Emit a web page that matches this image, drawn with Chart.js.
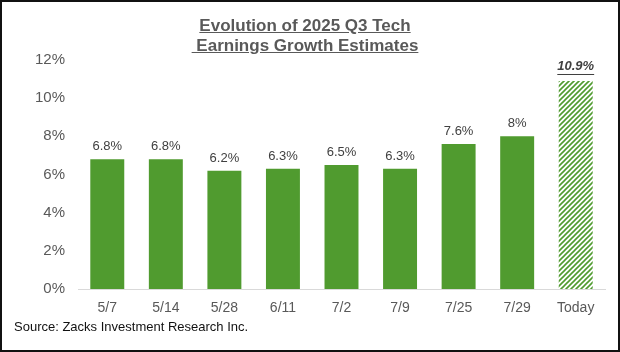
<!DOCTYPE html>
<html>
<head>
<meta charset="utf-8">
<script src="https://cdn.jsdelivr.net/npm/chart.js@4"></script>
<style>
  html, body { margin: 0; padding: 0; background: #fff; }
  #frame { position: relative; width: 616px; height: 348px; border: 2px solid #111; overflow: hidden; font-family: "Liberation Sans", Arial, sans-serif; }
  #title { position: absolute; left: 0; top: 14px; width: 606px; text-align: center; font-weight: bold; font-size: 17px; line-height: 20px; color: #595959; text-decoration: underline; white-space: pre; }
  #source { position: absolute; left: 12px; top: 317px; font-size: 13px; color: #111; }
  canvas#graph { position: absolute; left: -2px; top: -2px; }
</style>
</head>
<body>
<div id="frame">
  <canvas id="graph" width="620" height="352"></canvas>
  <div id="title">Evolution of 2025 Q3 Tech
 Earnings Growth Estimates</div>
  <div id="source">Source: Zacks Investment Research Inc.</div>
</div>
<script>
// data
var dates = ["5/7", "5/14", "5/28", "6/11", "7/2", "7/9", "7/25", "7/29", "Today"];
var growth = [6.8, 6.8, 6.2, 6.3, 6.5, 6.3, 7.6, 8.0, 10.9];
var labels = ["6.8%", "6.8%", "6.2%", "6.3%", "6.5%", "6.3%", "7.6%", "8%", "10.9%"];
var yTicks = [0, 2, 4, 6, 8, 10, 12];

const green = "#509b2f";
const tickFont = "'Liberation Sans', Arial";

function hatch() {
    var c = document.createElement("canvas");
    c.width = 5; c.height = 5;
    var g = c.getContext("2d");
    g.fillStyle = "#fff";
    g.fillRect(0, 0, 5, 5);
    g.strokeStyle = green;
    g.lineWidth = 1.6;
    g.beginPath();
    g.moveTo(-1, 6); g.lineTo(6, -1);
    g.moveTo(-1, 1); g.lineTo(1, -1);
    g.moveTo(4, 6); g.lineTo(6, 4);
    g.stroke();
    return g.createPattern(c, "repeat");
}

var barLabels = {
    id: "barLabels",
    afterDatasetsDraw(chart) {
        var ctx = chart.ctx;
        var meta = chart.getDatasetMeta(0);
        ctx.save();
        ctx.textAlign = "center";
        ctx.textBaseline = "bottom";
        meta.data.forEach((bar, i) => {
            var last = i == labels.length - 1;
            ctx.font = last ? "italic bold 13px 'Liberation Sans', Arial" : "13px 'Liberation Sans', Arial";
            ctx.fillStyle = "#404040";
            var y = bar.y - (last ? 8 : 6);
            ctx.fillText(labels[i], bar.x, y);
            if (last) {
                var w = ctx.measureText(labels[i]).width;
                ctx.fillRect(bar.x - w/2, y + 1, w, 1);
            }
        });
        ctx.restore();
    }
};

var graph = new Chart("graph", {
    type: "bar",
    data: {
        labels: dates,
        datasets: [{
            data: growth,
            backgroundColor: growth.map((v, i) => i == growth.length - 1 ? hatch() : green),
            barPercentage: 0.58,
            categoryPercentage: 1.0
        }]
    },
    options: {
        responsive: false,
        animation: false,
        layout: { padding: { top: 60, right: 15, left: 0, bottom: 0 } },
        plugins: { legend: { display: false }, tooltip: { enabled: false } },
        scales: {
            y: {
                min: 0, max: 12,
                afterBuildTicks: s => { s.ticks = yTicks.map(v => ({ value: v })); },
                afterFit: s => { s.width = 78; },
                grid: { display: false },
                border: { display: false },
                ticks: { padding: 5, color: "#595959", font: { family: tickFont, size: 15 }, callback: v => v + "%" }
            },
            x: {
                afterFit: s => { s.height = 63; },
                grid: { display: false },
                border: { color: "#d9d9d9", width: 1 },
                ticks: { padding: 3, color: "#595959", font: { family: tickFont, size: 14 } }
            }
        }
    },
    plugins: [barLabels]
});
</script>
</body>
</html>
